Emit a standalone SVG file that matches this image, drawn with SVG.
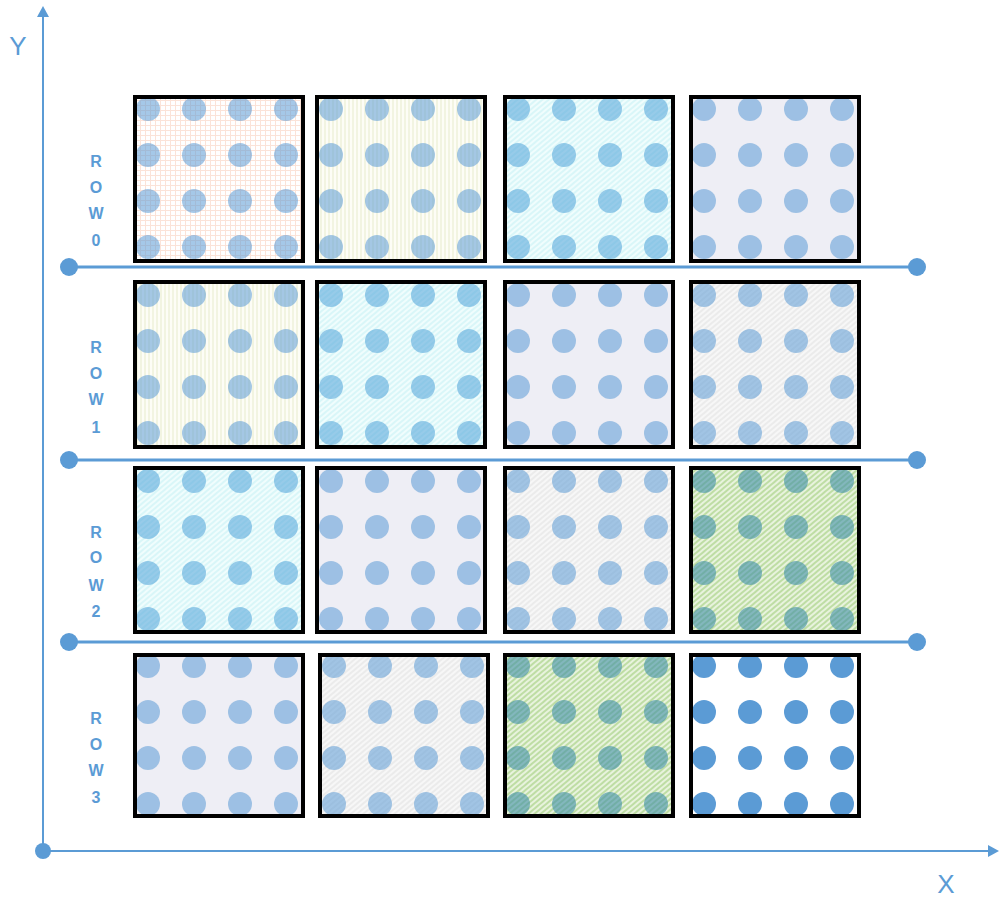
<svg xmlns="http://www.w3.org/2000/svg" xmlns:xlink="http://www.w3.org/1999/xlink" width="999" height="898" viewBox="0 0 999 898">
<style>
.axis{stroke:#5B9BD5;stroke-width:2;fill:none}
.sep{stroke:#5B9BD5;stroke-width:3;fill:none}
.end{fill:#5B9BD5}
.frame{stroke:#000;stroke-width:4}
.lbl{font-family:"Liberation Sans",Arial,sans-serif;font-weight:bold;font-size:16px;fill:#5B9BD5;text-anchor:middle}
.ax{font-family:"Liberation Sans",Arial,sans-serif;font-size:26px;fill:#5B9BD5;text-anchor:middle}
.dt{fill:#5B9BD5;fill-opacity:0.55}
.ds{fill:#5B9BD5}
</style>
<defs>
<pattern id="pPeach" patternUnits="userSpaceOnUse" width="5" height="5">
<rect width="5" height="5" fill="#FFFFFF"/>
<path d="M0.5 0V5M0 0.5H5" stroke="#FBE3D8" stroke-width="1"/>
</pattern>
<pattern id="pYellow" patternUnits="userSpaceOnUse" width="4" height="4">
<rect width="4" height="4" fill="#FDFDF6"/>
<path d="M1 0V4" stroke="#ECEFD4" stroke-width="1.2"/>
</pattern>
<pattern id="pCyan" patternUnits="userSpaceOnUse" width="4" height="4" patternTransform="rotate(-40)">
<rect width="4" height="4" fill="#F0FDFD"/>
<path d="M0 1H4" stroke="#CFF3F7" stroke-width="1.4"/>
</pattern>
<pattern id="pGray" patternUnits="userSpaceOnUse" width="4" height="4" patternTransform="rotate(-40)">
<rect width="4" height="4" fill="#F7F7F7"/>
<path d="M0 1H4" stroke="#E3E3E3" stroke-width="1.2"/>
</pattern>
<pattern id="pGreen" patternUnits="userSpaceOnUse" width="4" height="4" patternTransform="rotate(-40)">
<rect width="4" height="4" fill="#BEDDA4"/>
<path d="M0 1H4" stroke="#F6FBF1" stroke-width="1.5"/>
</pattern>
<g id="dots">
<circle cx="0" cy="0" r="12"/><circle cx="46" cy="0" r="12"/><circle cx="92" cy="0" r="12"/><circle cx="138" cy="0" r="12"/>
<circle cx="0" cy="46" r="12"/><circle cx="46" cy="46" r="12"/><circle cx="92" cy="46" r="12"/><circle cx="138" cy="46" r="12"/>
<circle cx="0" cy="92" r="12"/><circle cx="46" cy="92" r="12"/><circle cx="92" cy="92" r="12"/><circle cx="138" cy="92" r="12"/>
<circle cx="0" cy="138" r="12"/><circle cx="46" cy="138" r="12"/><circle cx="92" cy="138" r="12"/><circle cx="138" cy="138" r="12"/>
</g>
</defs>
<rect width="999" height="898" fill="#FFFFFF"/>

<g id="connectors">
<line class="axis" x1="43" y1="851" x2="43" y2="16"/>
<polygon class="end" points="37,17 49,17 43,6"/>
<line class="axis" x1="43" y1="851" x2="990" y2="851"/>
<polygon class="end" points="988,845 988,857 999,851"/>
<circle class="end" cx="43" cy="851" r="8"/>
<line class="sep" x1="69" y1="267" x2="917" y2="267"/>
<circle class="end" cx="69" cy="267" r="9"/><circle class="end" cx="917" cy="267" r="9"/>
<line class="sep" x1="69" y1="460" x2="917" y2="460"/>
<circle class="end" cx="69" cy="460" r="9"/><circle class="end" cx="917" cy="460" r="9"/>
<line class="sep" x1="69" y1="642" x2="917" y2="642"/>
<circle class="end" cx="69" cy="642" r="9"/><circle class="end" cx="917" cy="642" r="9"/>
</g>

<g id="axis-labels">
<text class="ax" x="18" y="55">Y</text>
<text class="ax" x="946" y="893">X</text>
</g>

<g id="row-labels">
<text class="lbl" x="96" y="167">R</text><text class="lbl" x="96" y="193">O</text><text class="lbl" x="96" y="219">W</text><text class="lbl" x="96" y="246">0</text>
<text class="lbl" x="96" y="353">R</text><text class="lbl" x="96" y="379">O</text><text class="lbl" x="96" y="405">W</text><text class="lbl" x="96" y="433">1</text>
<text class="lbl" x="96" y="538">R</text><text class="lbl" x="96" y="563">O</text><text class="lbl" x="96" y="591">W</text><text class="lbl" x="96" y="617">2</text>
<text class="lbl" x="96" y="724">R</text><text class="lbl" x="96" y="750">O</text><text class="lbl" x="96" y="776">W</text><text class="lbl" x="96" y="803">3</text>
</g>

<!-- Row 0 -->
<g id="tile-r0c0"><rect x="135" y="97" width="168" height="164" fill="url(#pPeach)"/><use href="#dots" x="148" y="109" class="dt"/><rect class="frame" x="135" y="97" width="168" height="164" fill="none"/></g>
<g id="tile-r0c1"><rect x="317" y="97" width="168" height="164" fill="url(#pYellow)"/><use href="#dots" x="331" y="109" class="dt"/><rect class="frame" x="317" y="97" width="168" height="164" fill="none"/></g>
<g id="tile-r0c2"><rect x="505" y="97" width="168" height="164" fill="url(#pCyan)"/><use href="#dots" x="518" y="109" class="dt" style="fill:#4FA3D8"/><rect class="frame" x="505" y="97" width="168" height="164" fill="none"/></g>
<g id="tile-r0c3"><rect x="691" y="97" width="168" height="164" fill="#EEEEF5"/><use href="#dots" x="704" y="109" class="dt"/><rect class="frame" x="691" y="97" width="168" height="164" fill="none"/></g>

<!-- Row 1 -->
<g id="tile-r1c0"><rect x="135" y="282" width="168" height="165" fill="url(#pYellow)"/><use href="#dots" x="148" y="295" class="dt"/><rect class="frame" x="135" y="282" width="168" height="165" fill="none"/></g>
<g id="tile-r1c1"><rect x="317" y="282" width="168" height="165" fill="url(#pCyan)"/><use href="#dots" x="331" y="295" class="dt" style="fill:#4FA3D8"/><rect class="frame" x="317" y="282" width="168" height="165" fill="none"/></g>
<g id="tile-r1c2"><rect x="505" y="282" width="168" height="165" fill="#EEEEF5"/><use href="#dots" x="518" y="295" class="dt"/><rect class="frame" x="505" y="282" width="168" height="165" fill="none"/></g>
<g id="tile-r1c3"><rect x="691" y="282" width="168" height="165" fill="url(#pGray)"/><use href="#dots" x="704" y="295" class="dt"/><rect class="frame" x="691" y="282" width="168" height="165" fill="none"/></g>

<!-- Row 2 -->
<g id="tile-r2c0"><rect x="135" y="468" width="168" height="164" fill="url(#pCyan)"/><use href="#dots" x="148" y="481" class="dt" style="fill:#4FA3D8"/><rect class="frame" x="135" y="468" width="168" height="164" fill="none"/></g>
<g id="tile-r2c1"><rect x="317" y="468" width="168" height="164" fill="#EEEEF5"/><use href="#dots" x="331" y="481" class="dt"/><rect class="frame" x="317" y="468" width="168" height="164" fill="none"/></g>
<g id="tile-r2c2"><rect x="505" y="468" width="168" height="164" fill="url(#pGray)"/><use href="#dots" x="518" y="481" class="dt"/><rect class="frame" x="505" y="468" width="168" height="164" fill="none"/></g>
<g id="tile-r2c3"><rect x="691" y="468" width="168" height="164" fill="url(#pGreen)"/><use href="#dots" x="704" y="481" class="dt" style="fill:#3F8FA8;fill-opacity:0.6"/><rect class="frame" x="691" y="468" width="168" height="164" fill="none"/></g>

<!-- Row 3 -->
<g id="tile-r3c0"><rect x="135" y="655" width="168" height="161" fill="#EEEEF5"/><use href="#dots" x="148" y="666" class="dt"/><rect class="frame" x="135" y="655" width="168" height="161" fill="none"/></g>
<g id="tile-r3c1"><rect x="320" y="655" width="168" height="161" fill="url(#pGray)"/><use href="#dots" x="334" y="666" class="dt"/><rect class="frame" x="320" y="655" width="168" height="161" fill="none"/></g>
<g id="tile-r3c2"><rect x="505" y="655" width="168" height="161" fill="url(#pGreen)"/><use href="#dots" x="518" y="666" class="dt" style="fill:#3F8FA8;fill-opacity:0.6"/><rect class="frame" x="505" y="655" width="168" height="161" fill="none"/></g>
<g id="tile-r3c3"><rect x="691" y="655" width="168" height="161" fill="#FFFFFF"/><use href="#dots" x="704" y="666" class="ds"/><rect class="frame" x="691" y="655" width="168" height="161" fill="none"/></g>
</svg>
